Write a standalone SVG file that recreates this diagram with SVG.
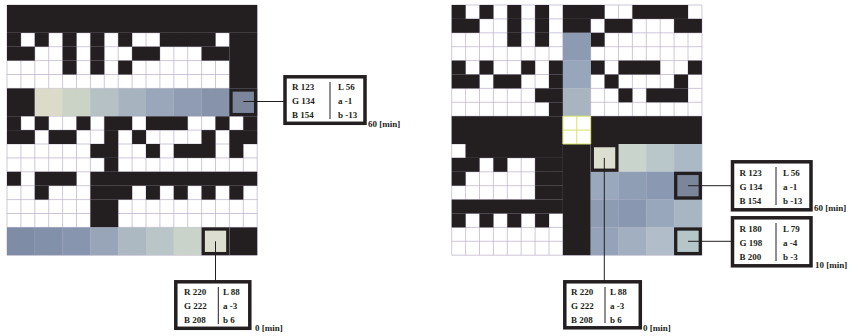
<svg xmlns="http://www.w3.org/2000/svg" xmlns:xlink="http://www.w3.org/1999/xlink" width="854" height="336" viewBox="0 0 854 336">
<style>
.k{fill:#231f20}
.gl{stroke:#c3b9cf;stroke-width:0.8;fill:none;vector-effect:non-scaling-stroke}
.yl{stroke:#d6e268;stroke-width:1;fill:none;vector-effect:non-scaling-stroke}
.hb{fill:none;stroke:#231f20;stroke-width:3.3}
.lb{fill:#fff;stroke:#231f20;stroke-width:3.5}
.dv{stroke:#231f20;stroke-width:1}
.t{font-family:"Liberation Serif","Times New Roman",serif;font-weight:bold;font-size:9px;fill:#231f20}
.m{font-size:9px}
.cn{stroke:#231f20;stroke-width:1;fill:none}
</style>
<defs>
<path id="gridlines" class="gl" d="M0 0H18M0 1H18M0 2H18M0 3H18M0 4H18M0 5H18M0 6H18M0 7H18M0 8H18M0 9H18M0 10H18M0 11H18M0 12H18M0 13H18M0 14H18M0 15H18M0 16H18M0 17H18M0 18H18M0 0V18M1 0V18M2 0V18M3 0V18M4 0V18M5 0V18M6 0V18M7 0V18M8 0V18M9 0V18M10 0V18M11 0V18M12 0V18M13 0V18M14 0V18M15 0V18M16 0V18M17 0V18M18 0V18"/>
</defs>
<rect width="854" height="336" fill="#fff"/>

<g id="grid-left" transform="translate(7,5) scale(13.9)">
<rect width="18" height="18" fill="#fff"/>
<use xlink:href="#gridlines" href="#gridlines"/>
<g class="k">
<rect x="0" y="0" width="18" height="2"/>
<rect x="16" y="2" width="2" height="4"/>
<rect x="0" y="2" width="1" height="1"/><rect x="2" y="2" width="1" height="1"/><rect x="4" y="2" width="1" height="1"/><rect x="6" y="2" width="1" height="1"/><rect x="8" y="2" width="1" height="1"/><rect x="11" y="2" width="4" height="1"/>
<rect x="0" y="3" width="2" height="1"/><rect x="4" y="3" width="1" height="1"/><rect x="6" y="3" width="1" height="1"/><rect x="9" y="3" width="2" height="1"/><rect x="14" y="3" width="2" height="1"/>
<rect x="4" y="4" width="1" height="1"/><rect x="6" y="4" width="1" height="1"/><rect x="8" y="4" width="1" height="1"/>
<rect x="0" y="6" width="2" height="2"/>
<rect x="0" y="8" width="1" height="1"/><rect x="2" y="8" width="1" height="1"/><rect x="5" y="8" width="1" height="1"/><rect x="7" y="8" width="2" height="1"/><rect x="10" y="8" width="3" height="1"/><rect x="15" y="8" width="1" height="1"/><rect x="17" y="8" width="1" height="1"/>
<rect x="0" y="9" width="2" height="1"/><rect x="3" y="9" width="2" height="1"/><rect x="7" y="9" width="1" height="1"/><rect x="9" y="9" width="1" height="1"/><rect x="14" y="9" width="1" height="1"/><rect x="16" y="9" width="2" height="1"/>
<rect x="6" y="10" width="2" height="1"/><rect x="10" y="10" width="1" height="1"/><rect x="12" y="10" width="3" height="1"/><rect x="16" y="10" width="1" height="1"/>
<rect x="7" y="11" width="1" height="1"/>
<rect x="0" y="12" width="1" height="1"/><rect x="2" y="12" width="3" height="1"/><rect x="6" y="12" width="12" height="1"/>
<rect x="2" y="13" width="1" height="1"/><rect x="6" y="13" width="3" height="1"/><rect x="10" y="13" width="1" height="1"/><rect x="12" y="13" width="1" height="1"/><rect x="14" y="13" width="1" height="1"/><rect x="16" y="13" width="1" height="1"/>
<rect x="6" y="14" width="2" height="2"/>
<rect x="16" y="16" width="2" height="2"/>
</g>
<rect x="2" y="6" width="2" height="2" fill="#dcdbc9"/>
<rect x="4" y="6" width="2" height="2" fill="#cad3c6"/>
<rect x="6" y="6" width="2" height="2" fill="#b5c1c5"/>
<rect x="8" y="6" width="2" height="2" fill="#a7b4c0"/>
<rect x="10" y="6" width="2" height="2" fill="#9aa7ba"/>
<rect x="12" y="6" width="2" height="2" fill="#8f9cb3"/>
<rect x="14" y="6" width="2" height="2" fill="#8693ab"/>
<rect x="16" y="6" width="2" height="2" fill="#7b869a"/>
<rect x="0" y="16" width="2" height="2" fill="#7e8ca5"/>
<rect x="2" y="16" width="2" height="2" fill="#8390a9"/>
<rect x="4" y="16" width="2" height="2" fill="#8895ae"/>
<rect x="6" y="16" width="2" height="2" fill="#98a5b9"/>
<rect x="8" y="16" width="2" height="2" fill="#acb9c3"/>
<rect x="10" y="16" width="2" height="2" fill="#b9c5c7"/>
<rect x="12" y="16" width="2" height="2" fill="#c9d3c9"/>
<rect x="14" y="16" width="2" height="2" fill="#dcdecf"/>
</g>

<g id="grid-right" transform="translate(451.7,5) scale(13.9)">
<rect width="18" height="18" fill="#fff"/>
<use xlink:href="#gridlines" href="#gridlines"/>
<g class="k">
<rect x="0" y="0" width="1" height="1"/><rect x="2" y="0" width="1" height="1"/><rect x="4" y="0" width="1" height="1"/><rect x="6" y="0" width="1" height="1"/><rect x="8" y="0" width="3" height="1"/><rect x="13" y="0" width="4" height="1"/>
<rect x="0" y="1" width="2" height="1"/><rect x="4" y="1" width="1" height="1"/><rect x="6" y="1" width="1" height="1"/><rect x="8" y="1" width="2" height="1"/><rect x="11" y="1" width="2" height="1"/><rect x="16" y="1" width="2" height="1"/>
<rect x="4" y="2" width="1" height="1"/><rect x="6" y="2" width="1" height="1"/><rect x="10" y="2" width="1" height="1"/>
<rect x="0" y="4" width="1" height="1"/><rect x="2" y="4" width="1" height="1"/><rect x="5" y="4" width="1" height="1"/><rect x="7" y="4" width="1" height="1"/><rect x="10" y="4" width="1" height="1"/><rect x="12" y="4" width="3" height="1"/><rect x="17" y="4" width="1" height="1"/>
<rect x="0" y="5" width="2" height="1"/><rect x="3" y="5" width="2" height="1"/><rect x="7" y="5" width="1" height="1"/><rect x="11" y="5" width="1" height="1"/><rect x="16" y="5" width="1" height="1"/>
<rect x="6" y="6" width="2" height="1"/><rect x="12" y="6" width="1" height="1"/><rect x="14" y="6" width="3" height="1"/>
<rect x="7" y="7" width="1" height="1"/>
<rect x="0" y="8" width="8" height="2"/><rect x="10" y="8" width="8" height="2"/>
<rect x="1" y="10" width="7" height="1"/>
<rect x="0" y="11" width="2" height="1"/><rect x="3" y="11" width="1" height="1"/><rect x="6" y="11" width="2" height="1"/>
<rect x="0" y="12" width="1" height="1"/><rect x="6" y="12" width="2" height="1"/>
<rect x="6" y="13" width="2" height="1"/>
<rect x="0" y="14" width="8" height="1"/>
<rect x="0" y="15" width="1" height="1"/><rect x="2" y="15" width="1" height="1"/><rect x="4" y="15" width="1" height="1"/><rect x="6" y="15" width="1" height="1"/>
<rect x="8" y="10" width="2" height="8"/>
</g>
<rect x="8" y="2" width="2" height="2" fill="#8c9ab2"/>
<rect x="8" y="4" width="2" height="2" fill="#98a6bc"/>
<rect x="8" y="6" width="2" height="2" fill="#a8b5c1"/>
<rect x="8" y="8" width="2" height="2" fill="#fff"/>
<path class="yl" d="M8 8H10V10H8ZM8 9H10M9 8V10"/>
<rect x="10" y="10" width="2" height="2" fill="#dcdecf"/>
<rect x="12" y="10" width="2" height="2" fill="#c9d4cc"/>
<rect x="14" y="10" width="2" height="2" fill="#b9c7cb"/>
<rect x="16" y="10" width="2" height="2" fill="#abb9c6"/>
<rect x="10" y="12" width="2" height="2" fill="#9aa8bd"/>
<rect x="12" y="12" width="2" height="2" fill="#8f9db5"/>
<rect x="14" y="12" width="2" height="2" fill="#8a98b1"/>
<rect x="16" y="12" width="2" height="2" fill="#7b869a"/>
<rect x="10" y="14" width="2" height="2" fill="#8d9bb3"/>
<rect x="12" y="14" width="2" height="2" fill="#8997b0"/>
<rect x="14" y="14" width="2" height="2" fill="#99a7bc"/>
<rect x="16" y="14" width="2" height="2" fill="#a8b6c4"/>
<rect x="10" y="16" width="2" height="2" fill="#95a3ba"/>
<rect x="12" y="16" width="2" height="2" fill="#a1afc1"/>
<rect x="14" y="16" width="2" height="2" fill="#b1bdc8"/>
<rect x="16" y="16" width="2" height="2" fill="#b4c6c8"/>
</g>

<g id="highlights">
<rect class="hb" x="231" y="90" width="24.6" height="24.6"/>
<rect class="hb" x="203.2" y="229" width="24.6" height="24.6"/>
<rect class="hb" x="592.3" y="145.6" width="24.6" height="24.6"/>
<rect class="hb" x="675.7" y="173.4" width="24.6" height="24.6"/>
<rect class="hb" x="675.7" y="229" width="24.6" height="24.6"/>
</g>

<g id="connectors">
<path class="cn" d="M243.3 101.5H285"/>
<path class="cn" d="M215.5 241.3V282"/>
<path class="cn" d="M604.3 157.9V282"/>
<path class="cn" d="M688 185.7H732.5"/>
<path class="cn" d="M688 241.3H732.5"/>
</g>

<g id="label-left-60">
<rect class="lb" x="285" y="76.8" width="80" height="46.5"/>
<line class="dv" x1="330" y1="82" x2="330" y2="119"/>
<text class="t" x="292" y="90">R 123</text>
<text class="t" x="292" y="104">G 134</text>
<text class="t" x="292" y="118">B 154</text>
<text class="t" x="338" y="90">L 56</text>
<text class="t" x="338" y="104">a -1</text>
<text class="t" x="338" y="118">b -13</text>
<text class="t m" x="368" y="127">60 [min]</text>
</g>

<g id="label-left-0">
<rect class="lb" x="175.8" y="281.8" width="74" height="46.5"/>
<line class="dv" x1="218.3" y1="287" x2="218.3" y2="324"/>
<text class="t" x="184" y="295">R 220</text>
<text class="t" x="184" y="309">G 222</text>
<text class="t" x="184" y="323">B 208</text>
<text class="t" x="223" y="295">L 88</text>
<text class="t" x="223" y="309">a -3</text>
<text class="t" x="223" y="323">b 6</text>
<text class="t m" x="255" y="331">0 [min]</text>
</g>

<g id="label-right-0">
<rect class="lb" x="564.8" y="281.8" width="75.5" height="46"/>
<line class="dv" x1="605" y1="287" x2="605" y2="323"/>
<text class="t" x="571" y="295">R 220</text>
<text class="t" x="571" y="309">G 222</text>
<text class="t" x="571" y="323">B 208</text>
<text class="t" x="610" y="295">L 88</text>
<text class="t" x="610" y="309">a -3</text>
<text class="t" x="610" y="323">b 6</text>
<text class="t m" x="643" y="331">0 [min]</text>
</g>

<g id="label-right-60">
<rect class="lb" x="732.5" y="161.8" width="78.5" height="48"/>
<line class="dv" x1="776" y1="167" x2="776" y2="205"/>
<text class="t" x="739.5" y="176">R 123</text>
<text class="t" x="739.5" y="190">G 134</text>
<text class="t" x="739.5" y="204">B 154</text>
<text class="t" x="783" y="176">L 56</text>
<text class="t" x="783" y="190">a -1</text>
<text class="t" x="783" y="204">b -13</text>
<text class="t m" x="814" y="211">60 [min]</text>
</g>

<g id="label-right-10">
<rect class="lb" x="732.5" y="217.8" width="78.5" height="48"/>
<line class="dv" x1="776" y1="223" x2="776" y2="261"/>
<text class="t" x="739.5" y="232">R 180</text>
<text class="t" x="739.5" y="246">G 198</text>
<text class="t" x="739.5" y="260">B 200</text>
<text class="t" x="783" y="232">L 79</text>
<text class="t" x="783" y="246">a -4</text>
<text class="t" x="783" y="260">b -3</text>
<text class="t m" x="815" y="268">10 [min]</text>
</g>
</svg>
